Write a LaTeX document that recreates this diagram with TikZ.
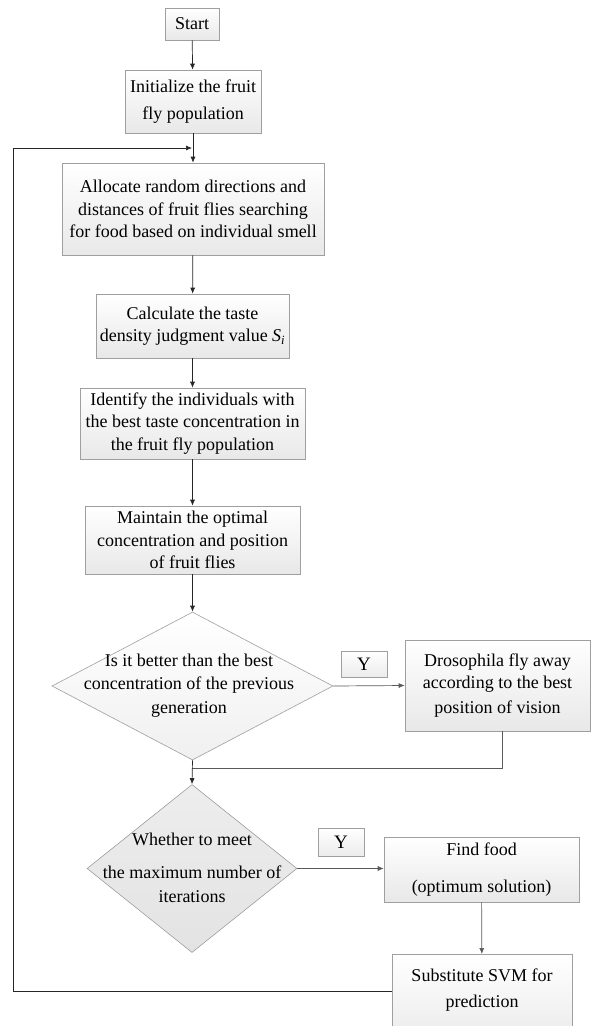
\documentclass[tikz,border=0pt]{standalone}
\usepackage{fontspec}
\setmainfont{Liberation Serif}
\usetikzlibrary{arrows.meta,shapes.geometric,shadows}
\begin{document}
\begin{tikzpicture}[x=1pt,y=-1pt,
  box/.style={draw=gray!75,line width=0.6pt,top color=white,bottom color=gray!18,
    inner sep=0pt,align=center,font=\fontsize{18}{22.5}\selectfont,
    drop shadow={shadow xshift=1pt,shadow yshift=-1pt,opacity=0.25,fill=gray}},
  ybox/.style={draw=gray!75,line width=0.6pt,top color=white,bottom color=gray!15,
    inner sep=0pt,font=\fontsize{19}{22}\selectfont},
  dia/.style={draw=gray!75,line width=0.6pt,diamond,inner sep=0pt},
  dtext/.style={align=center,font=\fontsize{18}{22.5}\selectfont,inner sep=0pt},
  flow/.style={draw=black!85,line width=0.7pt},
  gflow/.style={draw=gray!70!black,line width=0.7pt},
  arr/.style={-{Latex[length=6pt,width=5pt]}}
]
\useasboundingbox (0,0) rectangle (590,1026);

\node[box,minimum width=54,minimum height=32] (start) at (192,24) {Start};
\node[box,minimum width=136,minimum height=63] (init) at (193,101.5) {Initialize the fruit\\[4pt]fly population};
\node[box,minimum width=262,minimum height=92] (alloc) at (193,209) {Allocate random directions and\\distances of fruit flies searching\\for food based on individual smell};
\node[box,minimum width=193,minimum height=64] (calc) at (192.5,326) {Calculate the taste\\density judgment value \textit{S\textsubscript{i}}};
\node[box,minimum width=225,minimum height=71] (ident) at (192.5,423.5) {Identify the individuals with\\the best taste concentration in\\the fruit fly population};
\node[box,minimum width=215,minimum height=68] (maint) at (192.5,540) {Maintain the optimal\\concentration and position\\of fruit flies};

\node[dia,top color=white,bottom color=gray!12,minimum width=281,minimum height=148] (d1) at (192.5,686) {};
\node[dtext] (d1t) at (189,686) {Is it better than the best\\concentration of the previous\\[2pt]generation};
\node[ybox,minimum width=46,minimum height=26] (y1) at (364,664) {Y};
\node[box,minimum width=185,minimum height=91] (dros) at (497.5,685.5) {Drosophila fly away\\according to the best\\[2pt]position of vision};

\node[dia,top color=gray!14,bottom color=gray!22,minimum width=210,minimum height=168] (d2) at (192,868.5) {};
\node[dtext] (d2t) at (192,868) {Whether to meet\\[10pt]the maximum number of\\[2pt]iterations};
\node[ybox,minimum width=46,minimum height=28] (y2) at (341,842) {Y};
\node[box,minimum width=195,minimum height=65] (food) at (481.5,869.5) {Find food\\[14pt](optimum solution)};
\node[box,minimum width=180,minimum height=100,anchor=north] (svm) at (482,954) {};
\node[dtext] (svmt) at (482,990) {Substitute SVM for\\[3pt]prediction};

\coordinate (loopA) at (13,991);
\coordinate (loopB) at (13,148);
\coordinate (loopC) at (192,148);
\coordinate (join) at (192,768);
\coordinate (drosB) at (502,768);

\draw[flow,arr] (start) -- (init);
\draw[flow,arr] (init) -- (alloc);
\draw[flow,arr] (alloc) -- (calc);
\draw[flow,arr] (calc) -- (ident);
\draw[flow,arr] (ident) -- (maint);
\draw[flow,arr] (maint) -- (d1.north);
\draw[gflow,arr] (d1.east) -- (dros.west);
\draw[gflow] (dros.south -| drosB) -- (drosB) -- (join);
\draw[flow,arr] (d1.south) -- (d2.north);
\draw[gflow,arr] (d2.east) -- (food.west |- d2.east);
\draw[gflow,arr] (food) -- (svm);
\draw[flow,arr] (svm.west |- loopA) -- (loopA) -- (loopB) -- (loopC);
\end{tikzpicture}
\end{document}
